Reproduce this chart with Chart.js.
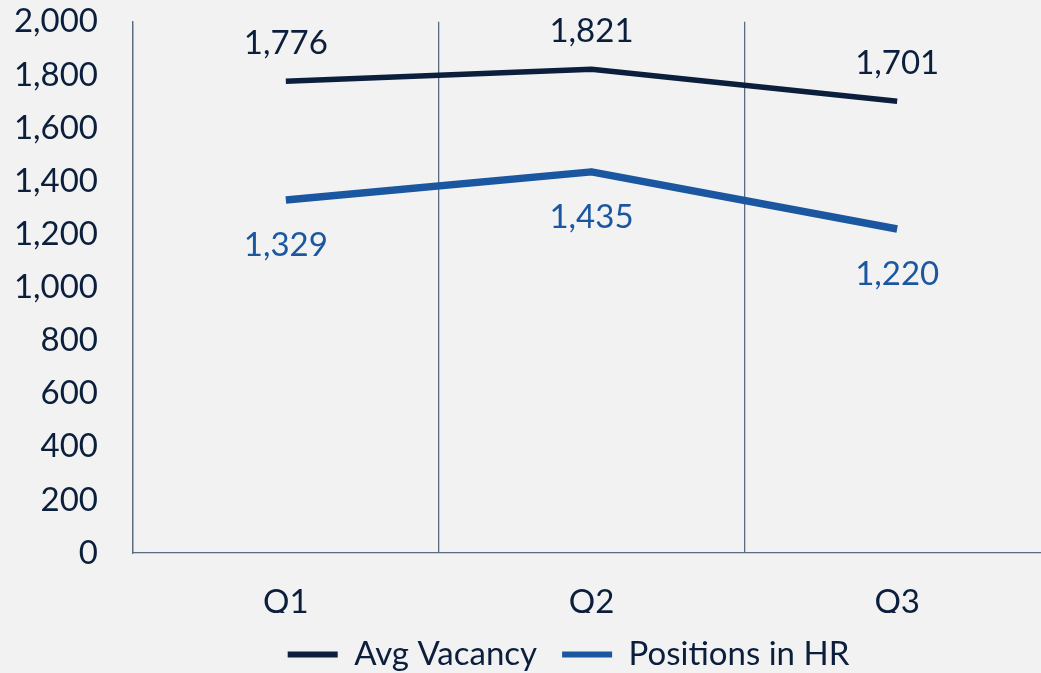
<!DOCTYPE html>
<html>
<head>
<meta charset="utf-8">
<script src="https://cdn.jsdelivr.net/npm/chart.js@4/dist/chart.umd.min.js"></script>
<style>
  html, body { margin: 0; padding: 0; background: #f2f2f2; overflow: hidden; }
  #wrap { width: 1050px; height: 673px; position: relative; }
</style>
</head>
<body>
<div id="wrap"><canvas id="vacancyChart"></canvas></div>
<script>
// data
const quarters = ['Q1', 'Q2', 'Q3'];
const avgVacancy = [1776, 1821, 1701];
const positionsInHR = [1329, 1435, 1220];
const yTicks = [0, 200, 400, 600, 800, 1000, 1200, 1400, 1600, 1800, 2000];

const navy = '#0b1f3c';
const blue = '#1b57a0';
const gridColor = '#5b6b80';
const fontFamily = 'Lato, "Open Sans", sans-serif';

// value labels above / below each point
const valueLabels = {
  id: 'valueLabels',
  afterDatasetsDraw(chart) {
    const ctx = chart.ctx;
    ctx.save();
    ctx.font = '33px ' + fontFamily;
    ctx.textAlign = 'center';
    ctx.textBaseline = 'middle';
    chart.data.datasets.forEach((ds, i) => {
      const meta = chart.getDatasetMeta(i);
      meta.data.forEach((pt, j) => {
        const above = ds.labelPos === 'above';
        ctx.fillStyle = ds.borderColor;
        ctx.fillText(ds.data[j].toLocaleString('en-US'), pt.x, above ? pt.y - 38 : pt.y + 45);
      });
    });
    ctx.restore();
  }
};

// legend sits a bit right of the canvas centre, like the original
const legendShift = {
  id: 'legendShift',
  afterLayout(chart, args, opts) {
    const l = chart.legend;
    l.left += opts.dx; l.right += opts.dx;
    l.top += opts.dy; l.bottom += opts.dy;
  }
};

document.addEventListener('DOMContentLoaded', function() {
  const ctx = document.getElementById('vacancyChart').getContext('2d');
  new Chart(ctx, {
    type: 'line',
    data: {
      labels: quarters,
      datasets: [{
        label: 'Avg Vacancy',
        data: avgVacancy,
        borderColor: navy,
        backgroundColor: navy,
        borderWidth: 5.5,
        pointRadius: 0,
        borderCapStyle: 'butt',
        borderJoinStyle: 'round',
        tension: 0,
        labelPos: 'above'
      }, {
        label: 'Positions in HR',
        data: positionsInHR,
        borderColor: blue,
        backgroundColor: blue,
        borderWidth: 7.5,
        pointRadius: 0,
        borderCapStyle: 'butt',
        borderJoinStyle: 'round',
        tension: 0,
        labelPos: 'below'
      }]
    },
    options: {
      responsive: true,
      maintainAspectRatio: false,
      animation: false,
      layout: { padding: { left: 15, right: 0, top: 0, bottom: 0 } },
      plugins: {
        tooltip: { enabled: false },
        legendShift: { dx: 36, dy: 0 },
        legend: {
          position: 'bottom',
          maxHeight: 60,
          labels: {
            color: navy,
            font: { family: fontFamily, size: 33 },
            boxWidth: 50,
            boxHeight: 6,
            padding: 25,
            generateLabels(chart) {
              return chart.data.datasets.map((ds, i) => ({
                text: ds.label,
                fillStyle: ds.borderColor,
                strokeStyle: ds.borderColor,
                lineWidth: 0,
                fontColor: navy,
                datasetIndex: i
              }));
            }
          }
        }
      },
      scales: {
        x: {
          offset: true,
          afterFit(scale) { scale.height = 60; },
          grid: { offset: true, color: gridColor, lineWidth: 1.3, drawTicks: false },
          border: { color: gridColor, width: 1.3 },
          ticks: { color: navy, padding: 30, font: { family: fontFamily, size: 33 } }
        },
        y: {
          min: 0,
          max: 2000,
          afterFit(scale) { scale.width = 118; },
          afterBuildTicks(scale) { scale.ticks = yTicks.map(v => ({ value: v })); },
          grid: {
            display: true,
            drawOnChartArea: false,
            drawTicks: true,
            tickLength: 33,
            tickColor: 'rgba(0,0,0,0)'
          },
          border: { color: gridColor, width: 1.3 },
          ticks: {
            color: navy,
            padding: 2,
            font: { family: fontFamily, size: 33 },
            callback: v => v.toLocaleString('en-US')
          }
        }
      }
    },
    plugins: [valueLabels, legendShift]
  });
});
</script>
</body>
</html>
